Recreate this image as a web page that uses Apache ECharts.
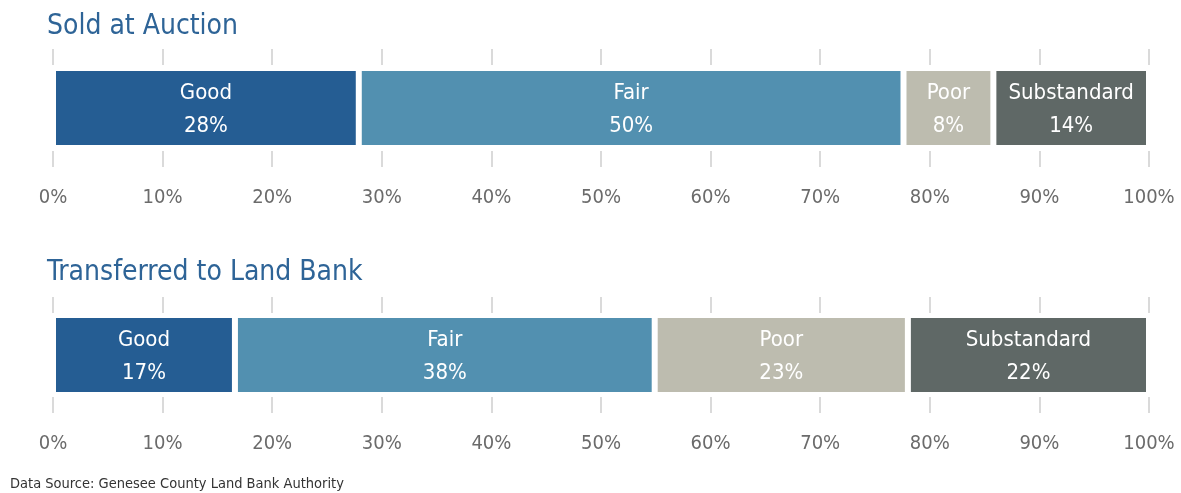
<!DOCTYPE html>
<html>

<head>
    <meta http-equiv="Content-Type" content="text/html; charset=utf-8" />
    <title>Condition of Properties</title>
    <style type="text/css">
        html,
        body {
            margin: 0;
            padding: 0;
            background: #fff;
        }

        #container {
            width: 1181px;
            height: 493px;
        }
    </style>
    <script src="https://cdn.jsdelivr.net/npm/echarts@6.0.0/dist/echarts.min.js"></script>
</head>

<body>
    <div id="container"></div>
    <script type="text/javascript">
        // 数据
        var categories = ['Good', 'Fair', 'Poor', 'Substandard'];
        var auctionValues = [27.9, 49.7, 8.2, 14.2];
        var auctionLabels = ['28%', '50%', '8%', '14%'];
        var landBankValues = [16.6, 38.3, 23.1, 22.0];
        var landBankLabels = ['17%', '38%', '23%', '22%'];
        var tickValues = [0, 10, 20, 30, 40, 50, 60, 70, 80, 90, 100];
        var colors = ['#255d93', '#5290b0', '#bdbcaf', '#5f6866'];

        var font = '"Liberation Sans Narrow", "DejaVu Sans Condensed", sans-serif';
        var chart = echarts.init(document.getElementById('container'));

        var grids = [
            { left: 53, right: 32, top: 49, height: 118 },
            { left: 53, right: 32, top: 297, height: 116 }
        ];

        function makeAxes(gridIndex) {
            var tick = {
                show: true,
                inside: true,
                length: 16,
                lineStyle: { color: '#dadada', width: 2 }
            };
            return [
                {
                    type: 'value', gridIndex: gridIndex, position: 'bottom',
                    min: tickValues[0], max: tickValues[tickValues.length - 1], interval: 10,
                    axisLine: { show: false },
                    axisTick: tick,
                    splitLine: { show: false },
                    axisLabel: {
                        formatter: '{value}%', color: '#6b6b6b', fontSize: 20,
                        fontFamily: font, margin: 21
                    }
                },
                {
                    type: 'value', gridIndex: gridIndex, position: 'top',
                    min: tickValues[0], max: tickValues[tickValues.length - 1], interval: 10,
                    axisLine: { show: false },
                    axisTick: tick,
                    splitLine: { show: false },
                    axisLabel: { show: false }
                }
            ];
        }

        var xAxes = makeAxes(0).concat(makeAxes(1));
        var yAxes = [0, 1].map(function (g) {
            return {
                type: 'category', gridIndex: g, data: ['row'],
                show: false
            };
        });

        var series = [];
        function addRow(values, labels, gridIndex) {
            categories.forEach(function (name, i) {
                series.push({
                    type: 'bar',
                    name: name,
                    stack: 'row' + gridIndex,
                    xAxisIndex: gridIndex * 2,
                    yAxisIndex: gridIndex,
                    barWidth: 80,
                    data: [values[i]],
                    itemStyle: {
                        color: colors[i],
                        borderColor: '#fff',
                        borderWidth: 3
                    },
                    label: {
                        show: true,
                        position: 'inside',
                        offset: [0, 2],
                        color: '#fff',
                        fontSize: 22,
                        lineHeight: 33,
                        fontFamily: font,
                        formatter: name + '\n' + labels[i]
                    },
                    silent: true
                });
            });
        }
        addRow(auctionValues, auctionLabels, 0);
        addRow(landBankValues, landBankLabels, 1);

        var option = {
            animation: false,
            title: [
                {
                    text: 'Sold at Auction', left: 42, top: 8,
                    textStyle: { color: '#2e6497', fontSize: 28, fontWeight: 'normal', fontFamily: font }
                },
                {
                    text: 'Transferred to Land Bank', left: 42, top: 254,
                    textStyle: { color: '#2e6497', fontSize: 28, fontWeight: 'normal', fontFamily: font }
                }
            ],
            grid: grids,
            xAxis: xAxes,
            yAxis: yAxes,
            series: series,
            graphic: [{
                type: 'text', left: 10, top: 477,
                style: {
                    text: 'Data Source: Genesee County Land Bank Authority',
                    fill: '#333', fontSize: 14.5, fontFamily: font
                }
            }]
        };
        chart.setOption(option);
    </script>
</body>

</html>
